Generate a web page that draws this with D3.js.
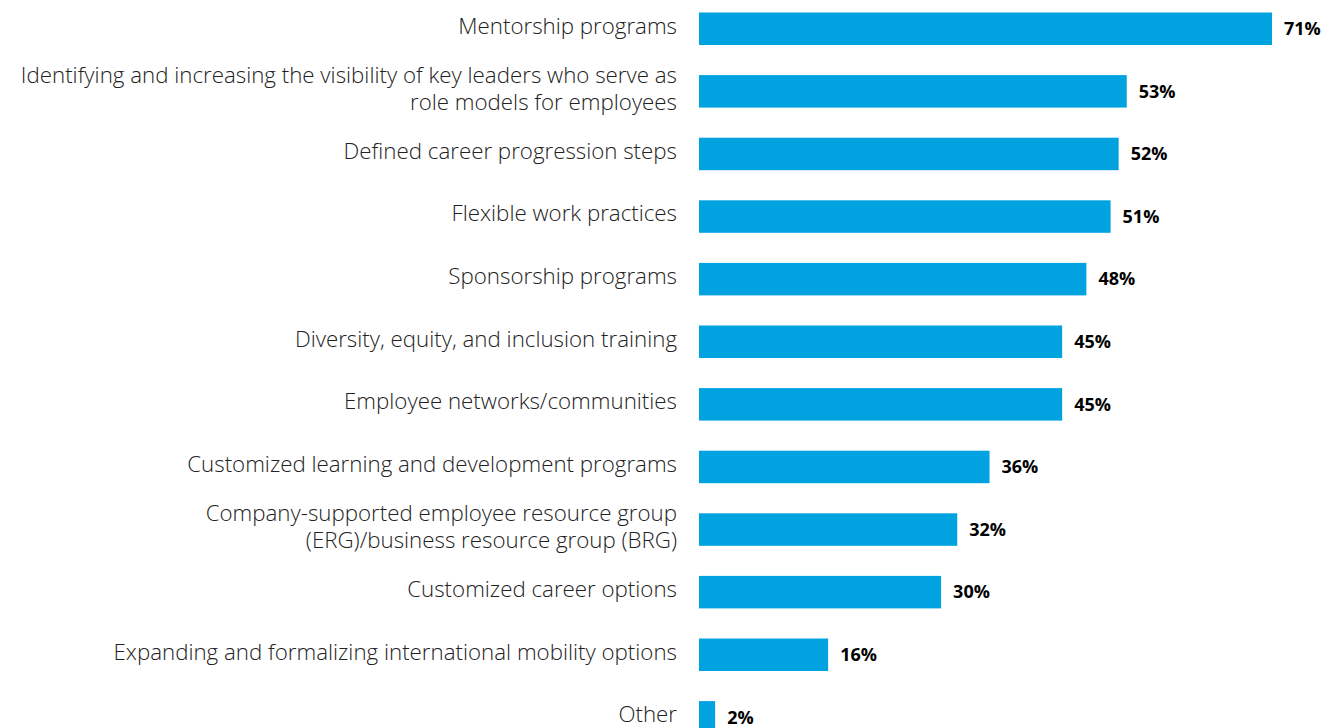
<!DOCTYPE html>
<html>
<head>
<meta charset="utf-8">
<script src="https://cdn.jsdelivr.net/npm/d3@7"></script>
<style>
  html, body { margin: 0; padding: 0; background: #fff; overflow: hidden; }
  svg { display: block; }
  .cat { font-family: "Open Sans", sans-serif; font-weight: 300; font-size: 22.3px; fill: #222; }
  .val { font-family: "Open Sans", sans-serif; font-weight: 700; font-size: 18px; fill: #000; }
</style>
</head>
<body>
<svg id="chart"></svg>
<script>
// ── Data ──────────────────────────────────────────────────────────────────
const categories = [
  ['Mentorship programs'],
  ['Identifying and increasing the visibility of key leaders who serve as', 'role models for employees'],
  ['Defined career progression steps'],
  ['Flexible work practices'],
  ['Sponsorship programs'],
  ['Diversity, equity, and inclusion training'],
  ['Employee networks/communities'],
  ['Customized learning and development programs'],
  ['Company-supported employee resource group', '(ERG)/business resource group (BRG)'],
  ['Customized career options'],
  ['Expanding and formalizing international mobility options'],
  ['Other']
];
const values = [71, 53, 52, 51, 48, 45, 45, 36, 32, 30, 16, 2];

// ── Layout ────────────────────────────────────────────────────────────────
const width = 1331, height = 728;
const barLeft = 699, labelRight = 677;
const svg = d3.select('#chart').attr('width', width).attr('height', height);

const keys = categories.map((c, i) => i);
const step = 62.6;
const y = d3.scaleBand()
  .domain(keys)
  .range([-2.55, -2.55 + step * keys.length])
  .paddingInner(0.481).paddingOuter(0.2405);

const x = d3.scaleLinear().domain([0, 71]).range([barLeft, 1272]);

const rows = svg.selectAll('g.row')
  .data(keys).join('g')
  .attr('class', 'row')
  .attr('transform', i => `translate(0,${y(i) + y.bandwidth() / 2})`);

rows.append('rect')
  .attr('x', x(0))
  .attr('y', -y.bandwidth() / 2)
  .attr('width', i => x(values[i]) - x(0))
  .attr('height', y.bandwidth())
  .attr('fill', '#00a3e0');

rows.append('text')
  .attr('class', 'val')
  .attr('x', i => x(values[i]) + 12)
  .attr('dy', '0.35em')
  .text(i => values[i] + '%');

// category labels, right-aligned, wrapped lines centred on the bar
rows.append('text')
  .attr('class', 'cat')
  .attr('text-anchor', 'end')
  .each(function (i) {
    const lines = categories[i];
    const lh = 27;
    const t = d3.select(this);
    lines.forEach((ln, k) => {
      t.append('tspan')
        .attr('x', labelRight)
        .attr('y', (k - (lines.length - 1) / 2) * lh - 3)
        .attr('dy', '0.35em')
        .text(ln);
    });
  });
</script>
</body>
</html>
